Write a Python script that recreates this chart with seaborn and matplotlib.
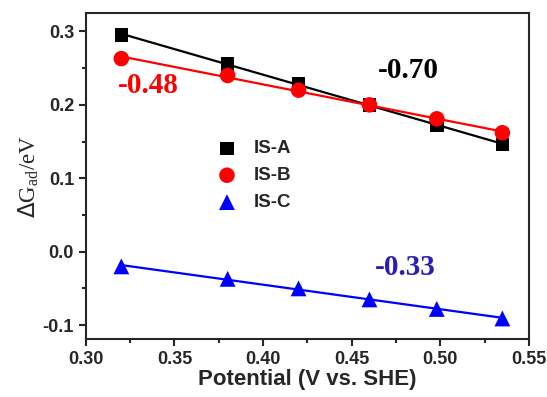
import seaborn as sns
import matplotlib.pyplot as plt
import pandas as pd
from matplotlib.ticker import MultipleLocator

# datos
potencial = [0.320, 0.380, 0.420, 0.460, 0.498, 0.535]
dg_a = [0.295, 0.256, 0.229, 0.200, 0.172, 0.146]
dg_b = [0.263, 0.240, 0.220, 0.200, 0.181, 0.162]
dg_c = [-0.020, -0.037, -0.050, -0.065, -0.078, -0.091]
series = ["IS-A", "IS-B", "IS-C"]
pendientes = ["-0.70", "-0.48", "-0.33"]

sns.set_style("ticks")
plt.rcParams['font.family'] = ['Liberation Sans', 'DejaVu Sans']

df = pd.DataFrame({
    "potencial": potencial * 3,
    "dg": dg_a + dg_b + dg_c,
    "serie": [series[0]] * 6 + [series[1]] * 6 + [series[2]] * 6,
})

colores = {"IS-A": "black", "IS-B": "#ff0000", "IS-C": "#0000ff"}
marcadores = {"IS-A": "s", "IS-B": "o", "IS-C": "^"}
tamanos = {"IS-A": 95, "IS-B": 125, "IS-C": 130}

fig = plt.figure(figsize=(5.47, 3.97), dpi=100)
ax = fig.add_axes([0.157, 0.146, 0.81, 0.821])

for s in series:
    sub = df[df["serie"] == s]
    sns.regplot(x="potencial", y="dg", data=sub, ax=ax, ci=None, scatter=False,
                color=colores[s], line_kws={"lw": 1.6})
    sns.scatterplot(x="potencial", y="dg", data=sub, ax=ax, color=colores[s],
                    marker=marcadores[s], s=tamanos[s], edgecolor="none",
                    label=s, zorder=3)

ax.set_xlim(0.30, 0.55)
ax.set_ylim(-0.119, 0.325)
ax.xaxis.set_major_locator(MultipleLocator(0.05))
ax.xaxis.set_minor_locator(MultipleLocator(0.025))
ax.yaxis.set_major_locator(MultipleLocator(0.1))
ax.yaxis.set_minor_locator(MultipleLocator(0.05))
ax.set_xticklabels([f"{v:.2f}" for v in ax.get_xticks()])
ax.set_yticklabels([f"{v:.1f}" for v in ax.get_yticks()])
ax.tick_params(which="major", direction="out", length=5, width=1.5,
               labelsize=13)
ax.tick_params(which="minor", direction="out", length=3, width=1.5)
for lab in ax.get_xticklabels() + ax.get_yticklabels():
    lab.set_fontweight("bold")
for sp in ax.spines.values():
    sp.set_linewidth(1.5)

ax.set_xlabel("Potential (V vs. SHE)", fontsize=16, fontweight="bold",
              labelpad=1)
ax.set_ylabel(r"$\Delta$G$_{\mathregular{ad}}$/eV", fontsize=16.5,
              family=["Liberation Serif", "DejaVu Serif"], labelpad=1)

ax.text(0.482, 0.247, pendientes[0], color="black", fontsize=21,
        fontweight="bold", family=["Liberation Serif"], ha="center", va="center")
ax.text(0.335, 0.226, pendientes[1], color="#ff0000", fontsize=21,
        fontweight="bold", family=["Liberation Serif"], ha="center", va="center")
ax.text(0.480, -0.022, pendientes[2], color="#2a1fb5", fontsize=21,
        fontweight="bold", family=["Liberation Serif"], ha="center", va="center")

leg = ax.legend(loc="upper left", bbox_to_anchor=(0.238, 0.662), frameon=False,
                prop={"weight": "bold", "size": 13.5}, handletextpad=0.45,
                labelspacing=0.52)

fig.savefig("out.png", dpi=100)
